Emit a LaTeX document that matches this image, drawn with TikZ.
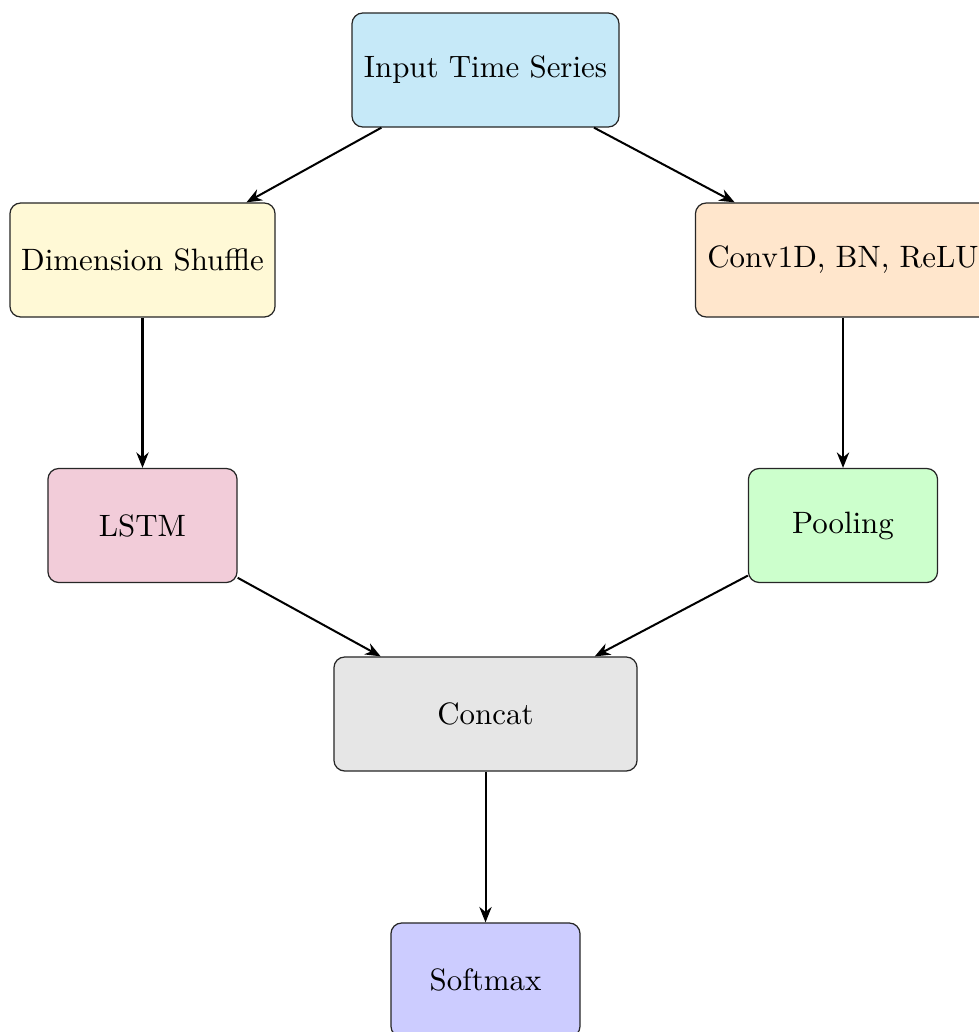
\documentclass[tikz,border=0pt]{standalone}
\usetikzlibrary{arrows.meta}
\definecolor{cInput}{HTML}{C6E9F8}
\definecolor{cDim}{HTML}{FFF9D6}
\definecolor{cConv}{HTML}{FFE6CC}
\definecolor{cLstm}{HTML}{F2CCD9}
\definecolor{cPool}{HTML}{CCFFCC}
\definecolor{cConcat}{HTML}{E6E6E6}
\definecolor{cSoft}{HTML}{CCCCFF}
\tikzset{
  blockbox/.style={draw=black!85, line width=0.4pt, rounded corners=3.5pt, inner sep=0pt,
    minimum height=36.9pt, align=center},
  flowarrow/.style={-{Stealth[length=5pt,width=4pt]}, line width=0.65pt}
}
\begin{document}
\begin{tikzpicture}[x=0.3236pt, y=-0.3236pt]
\useasboundingbox (0,0) rectangle (979,1032);
\node[blockbox, fill=cInput, minimum width=86.4pt] (input) at (485.5,70) {Input Time Series};
\node[blockbox, fill=cDim, minimum width=85.8pt] (dim) at (142.5,260) {Dimension Shuffle};
\node[blockbox, fill=cConv, minimum width=95.5pt] (conv) at (843,260) {Conv1D, BN, ReLU};
\node[blockbox, fill=cLstm, minimum width=61.2pt] (lstm) at (142.5,525.5) {LSTM};
\node[blockbox, fill=cPool, minimum width=61.2pt] (pool) at (843,525.5) {Pooling};
\node[blockbox, fill=cConcat, minimum width=98.1pt] (concat) at (485.5,714) {Concat};
\node[blockbox, fill=cSoft, minimum width=61.2pt] (soft) at (485.5,980) {Softmax};
\draw[flowarrow] (input) -- (dim);
\draw[flowarrow] (input) -- (conv);
\draw[flowarrow] (dim) -- (lstm);
\draw[flowarrow] (conv) -- (pool);
\draw[flowarrow] (lstm) -- (concat);
\draw[flowarrow] (pool) -- (concat);
\draw[flowarrow] (concat) -- (soft);
\end{tikzpicture}
\end{document}
